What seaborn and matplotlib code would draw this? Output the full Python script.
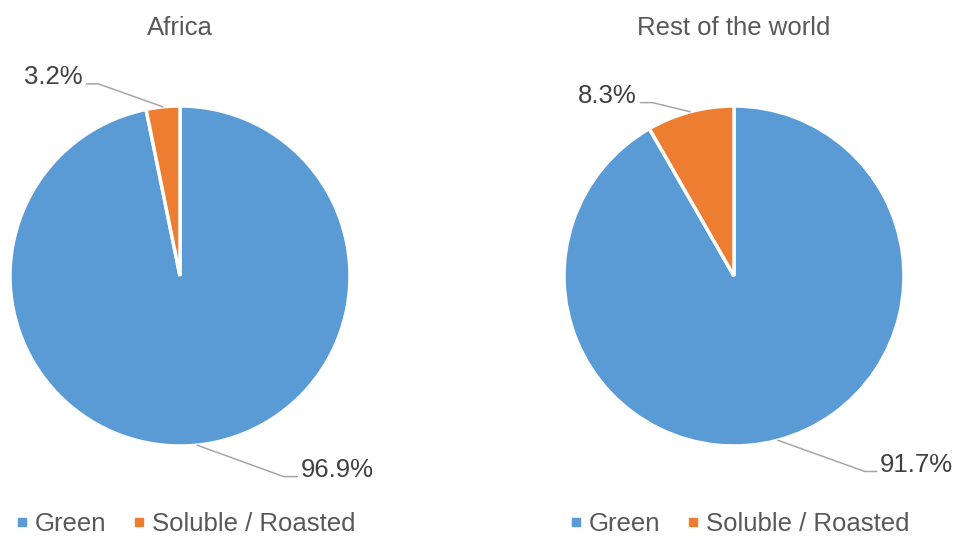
import numpy as np
import matplotlib
matplotlib.use("Agg")
import matplotlib.pyplot as plt
from matplotlib.lines import Line2D
import seaborn as sns

# Export shares by product type
categories = ["Green", "Soluble / Roasted"]
africa_share = [96.9, 3.2]
world_share = [91.7, 8.3]
panel_titles = ["Africa", "Rest of the world"]

sns.set_theme(style="white")
plt.rcParams["font.family"] = ["Liberation Sans", "DejaVu Sans"]

palette = ["#5B9BD5", "#ED7D31"]
text_color = "#595959"
label_color = "#404040"
leader_color = "#A6A6A6"
FS = 18.5

W, H = 960, 537
fig = plt.figure(figsize=(W / 100, H / 100), dpi=100)
fig.patch.set_facecolor("white")

R = 170  # pie radius in pixels
centers = [(180, 276), (734, 276)]

# label anchors (elbow, text side) for each wedge, in pie-radius units
label_layout = [
    # Africa: green, soluble
    [dict(elbow=(0.61, -1.18), end=(0.69, -1.18), ha="left"),
     dict(elbow=(-0.48, 1.13), end=(-0.55, 1.13), ha="right")],
    # Rest of the world
    [dict(elbow=(0.77, -1.15), end=(0.84, -1.15), ha="left"),
     dict(elbow=(-0.48, 1.02), end=(-0.55, 1.02), ha="right")],
]

legend_x = [186, 740]

for i, (values, title) in enumerate(zip([africa_share, world_share], panel_titles)):
    cx, cy = centers[i]
    ax = fig.add_axes([(cx - R) / W, (H - cy - R) / H, 2 * R / W, 2 * R / H])
    wedges, _ = ax.pie(values, colors=palette, startangle=90, counterclock=False,
                       radius=1.0,
                       wedgeprops=dict(edgecolor="white", linewidth=2.5))
    ax.set_xlim(-1, 1)
    ax.set_ylim(-1, 1)
    ax.set_aspect("equal")
    ax.axis("off")

    for w, v, lay in zip(wedges, values, label_layout[i]):
        mid = np.deg2rad((w.theta1 + w.theta2) / 2)
        start = (np.cos(mid) * 1.0, np.sin(mid) * 1.0)
        xs = [start[0], lay["elbow"][0], lay["end"][0]]
        ys = [start[1], lay["elbow"][1], lay["end"][1]]
        ax.plot(xs, ys, color=leader_color, lw=1.1, clip_on=False)
        dx = 0.02 if lay["ha"] == "left" else -0.02
        ax.text(lay["end"][0] + dx, lay["end"][1] + 0.04, f"{v:.1f}%",
                ha=lay["ha"], va="center", fontsize=FS, color=label_color,
                clip_on=False)

    fig.text(cx / W, (H - 28) / H, title, ha="center", va="center",
             fontsize=FS, color=text_color)

    handles = [Line2D([0], [0], marker="s", linestyle="none", markersize=6,
                      markerfacecolor=c, markeredgecolor=c) for c in palette]
    leg = fig.legend(handles, categories, loc="center", ncol=2,
                     bbox_to_anchor=(legend_x[i] / W, (H - 524) / H),
                     frameon=False, fontsize=FS, handlelength=0.4,
                     handletextpad=0.3, columnspacing=1.1, borderpad=0)
    for t in leg.get_texts():
        t.set_color(text_color)

fig.savefig("out.png", dpi=100, facecolor="white")
